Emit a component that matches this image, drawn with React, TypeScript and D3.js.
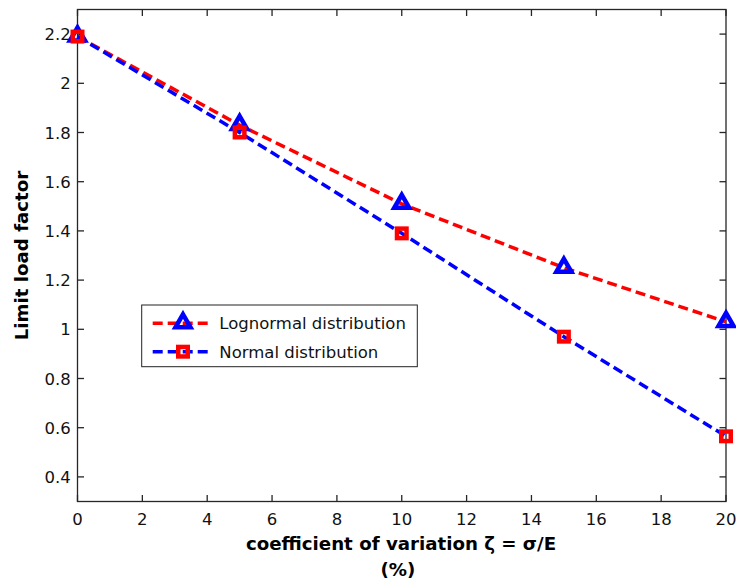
import React from "react";
import * as d3 from "d3";

const xValues = [0, 5, 10, 15, 20];
const lognormalValues = [2.19, 1.83, 1.51, 1.25, 1.03];
const normalValues = [2.19, 1.8, 1.39, 0.97, 0.565];
const xTickValues = [0, 2, 4, 6, 8, 10, 12, 14, 16, 18, 20];
const yTickValues = [0.4, 0.6, 0.8, 1, 1.2, 1.4, 1.6, 1.8, 2, 2.2];
const seriesNames = ["Lognormal distribution", "Normal distribution"];
const xLabel = "coefficient of variation \u03B6 = \u03C3/E";
const xLabel2 = "(%)";
const yLabel = "Limit load factor";

const W = 736;
const H = 587;
const L = 77.5;
const R = 726;
const T = 9.5;
const B = 501.5;

const RED = "#ff0000";
const BLUE = "#0000ff";
const AXIS = "#262626";
const TICKFONT = "'DejaVu Sans', Verdana, sans-serif";

const triPath = "M0,-9L7.5,4L-7.5,4Z";

function Triangle({ x, y }: { x: number; y: number }) {
  return (
    <path
      d={triPath}
      transform={`translate(${x},${y})`}
      fill="none"
      stroke={BLUE}
      strokeWidth={4.5}
      strokeLinejoin="miter"
    />
  );
}

function Square({ x, y }: { x: number; y: number }) {
  const s = 9.5;
  return (
    <rect
      x={x - s / 2}
      y={y - s / 2}
      width={s}
      height={s}
      fill="none"
      stroke={RED}
      strokeWidth={4.5}
    />
  );
}

export default function App() {
  const x = d3.scaleLinear().domain([0, 20]).range([L, R]);
  const y = d3.scaleLinear().domain([0.3, 2.3]).range([B, T]);
  const line = d3
    .line<number>()
    .x((_, i) => x(xValues[i]))
    .y((d) => y(d));
  const fmt = (v: number) => String(Number(v.toFixed(1)));
  const tickLen = 6.5;

  const legX0 = 141.7;
  const legY0 = 305;
  const legW = 275.6;
  const legH = 61.7;
  const rows = [323.3, 351.7];

  return (
    <svg
      width={W}
      height={H}
      style={{ position: "absolute", left: 0, top: 0, background: "#fff" }}
    >
      <rect x={0} y={0} width={W} height={H} fill="#fff" />
      {/* axes box */}
      <rect x={L} y={T} width={R - L} height={B - T} fill="none" stroke={AXIS} strokeWidth={1.3} />
      {xTickValues.map((v) => (
        <g key={"xt" + v}>
          <line x1={x(v)} x2={x(v)} y1={B} y2={B - tickLen} stroke={AXIS} strokeWidth={1.3} />
          <line x1={x(v)} x2={x(v)} y1={T} y2={T + tickLen} stroke={AXIS} strokeWidth={1.3} />
          <text
            x={x(v)}
            y={525}
            textAnchor="middle"
            fontFamily={TICKFONT}
            fontSize={16.5}
            fill="#111"
          >
            {fmt(v)}
          </text>
        </g>
      ))}
      {yTickValues.map((v) => (
        <g key={"yt" + v}>
          <line x1={L} x2={L + tickLen} y1={y(v)} y2={y(v)} stroke={AXIS} strokeWidth={1.3} />
          <line x1={R} x2={R - tickLen} y1={y(v)} y2={y(v)} stroke={AXIS} strokeWidth={1.3} />
          <text
            x={70.7}
            y={y(v) + 6}
            textAnchor="end"
            fontFamily={TICKFONT}
            fontSize={16.5}
            fill="#111"
          >
            {fmt(v)}
          </text>
        </g>
      ))}

      {/* series */}
      <path d={line(lognormalValues) || ""} fill="none" stroke={RED} strokeWidth={3.5} strokeDasharray="10,5" />
      {lognormalValues.map((v, i) => (
        <Triangle key={"tr" + i} x={x(xValues[i])} y={y(v)} />
      ))}
      <path d={line(normalValues) || ""} fill="none" stroke={BLUE} strokeWidth={3.5} strokeDasharray="10,5" />
      {normalValues.map((v, i) => (
        <Square key={"sq" + i} x={x(xValues[i])} y={y(v)} />
      ))}

      {/* legend */}
      <rect x={legX0} y={legY0} width={legW} height={legH} fill="#fff" stroke="#222" strokeWidth={1} />
      {rows.map((ry, i) => (
        <g key={"lg" + i}>
          <line
            x1={152.7}
            x2={211.7}
            y1={ry}
            y2={ry}
            stroke={i === 0 ? RED : BLUE}
            strokeWidth={3.5}
            strokeDasharray="10,5"
          />
          {i === 0 ? <Triangle x={183} y={ry} /> : <Square x={183} y={ry} />}
          <text x={219.3} y={ry + 6} fontFamily={TICKFONT} fontSize={16.5} fill="#111">
            {seriesNames[i]}
          </text>
        </g>
      ))}

      {/* axis labels */}
      <text
        x={401}
        y={550}
        textAnchor="middle"
        fontFamily="'DejaVu Sans', Verdana, sans-serif"
        fontWeight="bold"
        fontSize={18.2}
        fill="#000"
      >
        {xLabel}
      </text>
      <text
        x={398}
        y={576}
        textAnchor="middle"
        fontFamily="'DejaVu Sans', Verdana, sans-serif"
        fontWeight="bold"
        fontSize={18.2}
        fill="#000"
      >
        {xLabel2}
      </text>
      <text
        transform={`translate(28,${(T + B) / 2}) rotate(-90)`}
        textAnchor="middle"
        fontFamily="'DejaVu Sans', Verdana, sans-serif"
        fontWeight="bold"
        fontSize={18.2}
        fill="#000"
      >
        {yLabel}
      </text>
    </svg>
  );
}
